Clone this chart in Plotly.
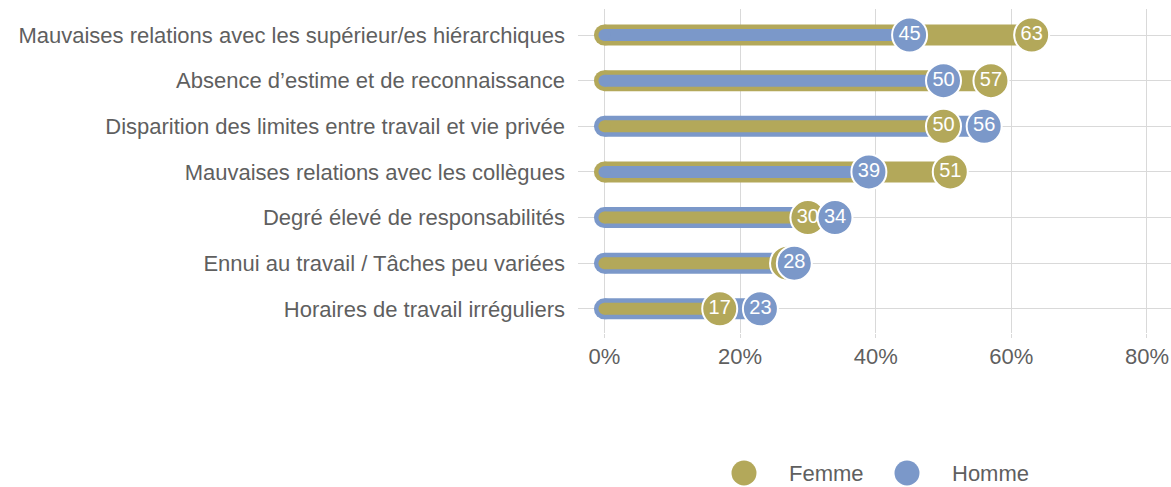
import plotly.graph_objects as go

categories = [
    "Mauvaises relations avec les supérieur/es hiérarchiques",
    "Absence d’estime et de reconnaissance",
    "Disparition des limites entre travail et vie privée",
    "Mauvaises relations avec les collègues",
    "Degré élevé de responsabilités",
    "Ennui au travail / Tâches peu variées",
    "Horaires de travail irréguliers",
]
femme = [63, 57, 50, 51, 30, 27, 17]
homme = [45, 50, 56, 39, 34, 28, 23]
series_names = ["Femme", "Homme"]
x_tickvals = [0, 20, 40, 60, 80]
x_ticktext = ["0%", "20%", "40%", "60%", "80%"]

OLIVE = "#b3a85a"
BLUE = "#7b98c9"
GRID = "#d9d9d9"
TXT = "#5f5f5f"
FONT = "Liberation Sans, Arial, Helvetica, sans-serif"

W, H = 1171, 487
ML, MT = 578, 9
PLOT_BOTTOM = 333
THICK, THIN = 21, 12

fig = go.Figure()

# bars: longer bar thick underneath, shorter bar thin on top
for cat, f, h in zip(categories, femme, homme):
    if f >= h:
        big, bigc, small, smallc = f, OLIVE, h, BLUE
    else:
        big, bigc, small, smallc = h, BLUE, f, OLIVE
    for val, col, w in ((big, bigc, THICK), (small, smallc, THIN)):
        fig.add_trace(go.Scatter(
            x=[0, val], y=[cat, cat], mode="lines",
            line=dict(color=col, width=w), showlegend=False, hoverinfo="skip"))
        fig.add_trace(go.Scatter(
            x=[0], y=[cat], mode="markers",
            marker=dict(color=col, size=w, line=dict(width=0)),
            showlegend=False, hoverinfo="skip", cliponaxis=False))

for vals, col in ((femme, OLIVE), (homme, BLUE)):
    fig.add_trace(go.Scatter(
        x=vals, y=categories, mode="markers+text",
        text=[str(v) for v in vals], textposition="middle center",
        textfont=dict(color="white", size=20, family=FONT),
        marker=dict(color=col, size=35, line=dict(color="white", width=2)),
        showlegend=False, hoverinfo="skip", cliponaxis=False))

# custom legend on a hidden helper axis (pixel-like units)
leg_x = [744, 907]
leg_y = 14
for name, col, lx in zip(series_names, (OLIVE, BLUE), leg_x):
    fig.add_trace(go.Scatter(
        x=[lx], y=[leg_y], xaxis="x2", yaxis="y2", mode="markers",
        marker=dict(color=col, size=25), showlegend=False,
        hoverinfo="skip", cliponaxis=False))
    fig.add_annotation(x=lx + 43, y=leg_y, xref="x2", yref="y2", text=name,
                       showarrow=False, xanchor="left", yanchor="middle",
                       font=dict(size=22, color=TXT, family=FONT))

plot_h = H - MT
leg_dom_top = 0.1
fig.update_layout(
    width=W, height=H,
    margin=dict(l=ML, r=0, t=MT, b=0, pad=0),
    paper_bgcolor="white", plot_bgcolor="white",
    font=dict(family=FONT, color=TXT, size=22),
    showlegend=False,
    xaxis=dict(
        domain=[0, 1], range=[-3.9, 83.55],
        tickvals=x_tickvals, ticktext=x_ticktext,
        showgrid=True, gridcolor=GRID, gridwidth=1,
        zeroline=False, showline=False,
        ticks="outside", ticklen=4, tickcolor=GRID,
        tickfont=dict(size=22, color=TXT, family=FONT),
        ticklabelstandoff=0,
        anchor="y",
    ),
    yaxis=dict(
        domain=[(H - PLOT_BOTTOM) / plot_h, 1],
        type="category", categoryorder="array", categoryarray=categories,
        range=[6.53, -0.57],
        showgrid=True, gridcolor=GRID, gridwidth=1,
        zeroline=False, showline=False, ticks="",
        tickfont=dict(size=22, color=TXT, family=FONT),
        ticklabelstandoff=12,
    ),
    xaxis2=dict(domain=[0, 1], range=[ML, W], visible=False, anchor="y2",
                fixedrange=True),
    yaxis2=dict(domain=[0, leg_dom_top], range=[0, plot_h * leg_dom_top],
                visible=False, anchor="x2", fixedrange=True),
)

fig.write_html(
    "out.html",
    config={"displayModeBar": False},
    post_script="document.body.style.margin='0';"
                "document.body.style.overflow='hidden';",
)
